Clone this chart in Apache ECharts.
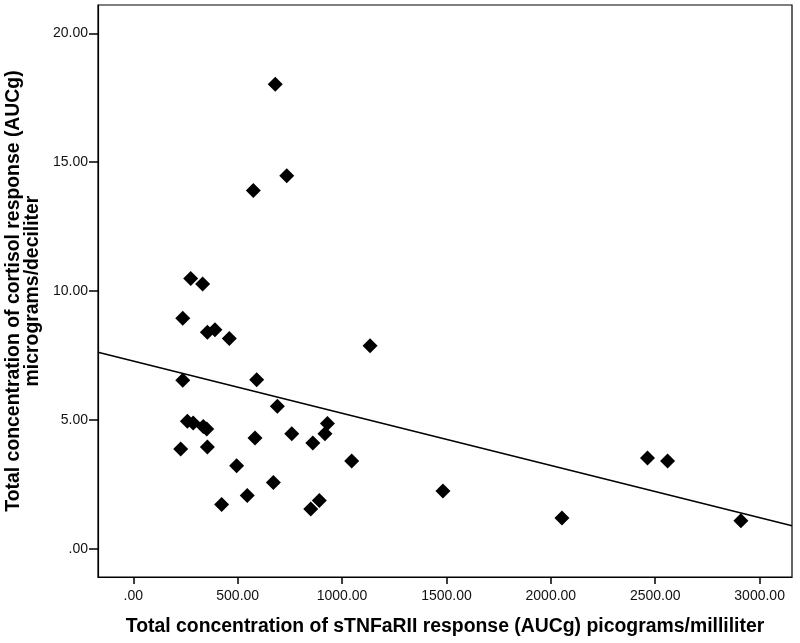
<!DOCTYPE html>
<html>
<head>
<meta charset="utf-8">
<script src="https://cdn.jsdelivr.net/npm/echarts@6/dist/echarts.min.js"></script>
<style>
html,body{margin:0;padding:0;background:#fff;}
#chart{width:800px;height:643px;}
</style>
</head>
<body>
<div id="chart"></div>
<script>
// sTNFaRII total concentration (AUCg), pg/mL
const xValues = [680, 735, 575, 275, 332, 237, 355, 391, 460, 1134,
  237, 591, 690, 259, 287, 335, 352, 930, 583, 759,
  918, 860, 355, 227, 1046, 495, 671, 546, 1483, 423,
  891, 850, 2463, 2559, 2053, 2910];
// Cortisol total concentration (AUCg), µg/dL
const yValues = [18.03, 14.48, 13.90, 10.49, 10.28, 8.95, 8.40, 8.50, 8.16, 7.88,
  6.54, 6.56, 5.53, 4.95, 4.88, 4.75, 4.65, 4.86, 4.30, 4.47,
  4.47, 4.11, 3.95, 3.88, 3.41, 3.23, 2.58, 2.07, 2.25, 1.72,
  1.88, 1.55, 3.53, 3.41, 1.20, 1.09];
// Fit line end points
const fitX = [-169, 3155];
const fitY = [7.63, 0.90];
// Tick values and labels
const xTicks = [0, 500, 1000, 1500, 2000, 2500, 3000];
const xTickLabels = ['.00', '500.00', '1000.00', '1500.00', '2000.00', '2500.00', '3000.00'];
const yTicks = [0, 5, 10, 15, 20];
const yTickLabels = ['.00', '5.00', '10.00', '15.00', '20.00'];

const points = xValues.map((x, i) => [x, yValues[i]]);
const fitLine = fitX.map((x, i) => [x, fitY[i]]);

const chart = echarts.init(document.getElementById('chart'), null, {renderer: 'canvas'});
const font = 'Liberation Sans, Arial, sans-serif';
chart.setOption({
  animation: false,
  backgroundColor: '#fff',
  grid: {
    left: 98, top: 5, right: 8, bottom: 66,
    show: true, borderColor: '#000', borderWidth: 1.2,
    outerBoundsMode: 'none'
  },
  xAxis: {
    type: 'value',
    min: -169, max: 3155,
    name: 'Total concentration of sTNFaRII response (AUCg) picograms/milliliter',
    nameLocation: 'middle',
    nameGap: 40,
    nameTextStyle: {fontFamily: font, fontSize: 19.4, fontWeight: 'bold', color: '#000'},
    axisLine: {show: true, onZero: false, lineStyle: {color: '#000', width: 1.2}},
    axisTick: {show: true, inside: false, length: 7, customValues: xTicks, lineStyle: {color: '#000', width: 1.5}},
    axisLabel: {
      customValues: xTicks, margin: 12,
      fontFamily: font, fontSize: 14, color: '#111',
      formatter: v => xTickLabels[xTicks.indexOf(v)] ?? ''
    },
    splitLine: {show: false}
  },
  yAxis: {
    type: 'value',
    min: -1.09, max: 21.1,
    name: 'Total concentration of cortisol response (AUCg)\nmicrograms/deciliter',
    nameLocation: 'middle',
    nameGap: 55,
    nameTextStyle: {fontFamily: font, fontSize: 19.4, fontWeight: 'bold', color: '#000', lineHeight: 19, align: 'center'},
    axisLine: {show: true, onZero: false, lineStyle: {color: '#000', width: 1.2}},
    axisTick: {show: true, inside: false, length: 9, customValues: yTicks, lineStyle: {color: '#000', width: 1.5}},
    axisLabel: {
      customValues: yTicks, margin: 10,
      fontFamily: font, fontSize: 14, color: '#111',
      formatter: v => yTickLabels[yTicks.indexOf(v)] ?? ''
    },
    splitLine: {show: false}
  },
  series: [
    {
      type: 'line',
      data: fitLine,
      symbol: 'none',
      clip: true,
      lineStyle: {color: '#000', width: 1.5},
      z: 1
    },
    {
      type: 'scatter',
      data: points,
      symbol: 'diamond',
      symbolSize: 15,
      itemStyle: {color: '#000', opacity: 1},
      z: 2
    }
  ]
});
</script>
</body>
</html>
